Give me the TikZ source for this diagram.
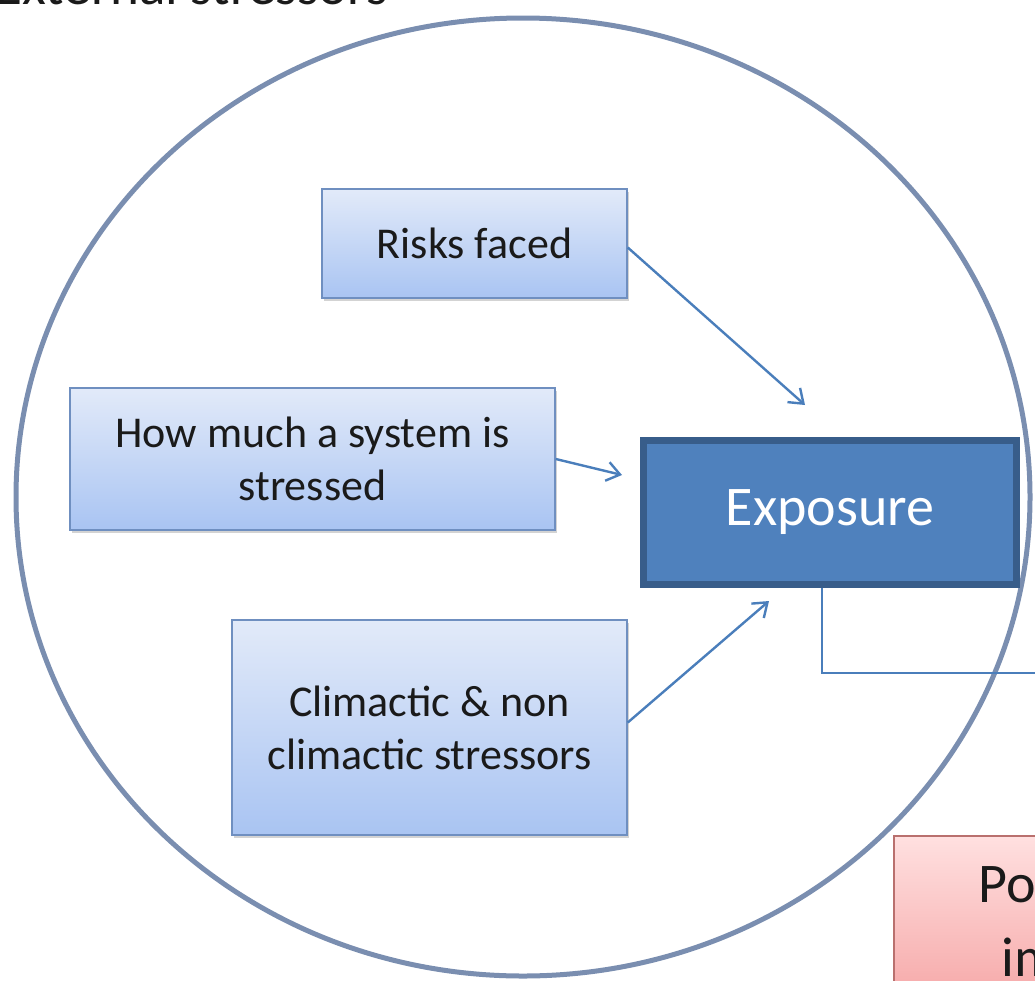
\documentclass[tikz,border=0pt]{standalone}
\usepackage{fontspec}
\setmainfont{Carlito}
\usetikzlibrary{arrows.meta,shadows}
\definecolor{ringc}{HTML}{7A8EB0}
\definecolor{boxtop}{HTML}{E2EAF9}
\definecolor{boxbot}{HTML}{A9C4F2}
\definecolor{boxline}{HTML}{6F8FC0}
\definecolor{expofill}{HTML}{4F81BD}
\definecolor{expoline}{HTML}{385D8A}
\definecolor{arrc}{HTML}{4A7EBB}
\definecolor{pinktop}{HTML}{FFE0E0}
\definecolor{pinkbot}{HTML}{F5A3A3}
\definecolor{pinkline}{HTML}{B9706E}
\definecolor{txt}{HTML}{1A1A1A}
\tikzset{
  bluebox/.style={draw=boxline, line width=1.5pt, top color=boxtop, bottom color=boxbot,
    drop shadow={shadow xshift=2pt, shadow yshift=-3pt, opacity=0.35},
    align=center, text=txt, font=\fontsize{44}{53}\selectfont, inner sep=0pt},
  expobox/.style={draw=expoline, line width=7pt, fill=expofill, text=white,
    font=\fontsize{56}{66}\selectfont, inner sep=0pt},
  pinkbox/.style={draw=pinkline, line width=1.5pt, top color=pinktop, bottom color=pinkbot,
    align=center, text=txt, font=\fontsize{56}{74}\selectfont, inner sep=0pt},
  arr/.style={draw=arrc, line width=2.4pt, -{Straight Barb[length=13pt,width=19pt,line width=2.4pt]}},
  link/.style={draw=arrc, line width=1.5pt},
  ring/.style={draw=ringc, line width=5pt}
}
\begin{document}
\begin{tikzpicture}[x=1pt,y=-1pt]
\useasboundingbox (0,0) rectangle (1035,980);
\clip (0,0) rectangle (1035,980);
\node[anchor=base west, text=txt, font=\fontsize{55}{66}\selectfont, inner sep=0pt] (title) at (-5,4) {External stressors};
\draw[ring] (523,497) ellipse [x radius=507, y radius=479];
\node[bluebox, minimum width=305, minimum height=109] (risks) at (474.5,243.5) {Risks faced};
\node[bluebox, minimum width=485, minimum height=142] (much) at (312.5,459) {How much a system is\\stressed};
\node[bluebox, minimum width=395, minimum height=215] (clim) at (429.5,727.5) {Climactic \& non\\climactic stressors};
\node[expobox, minimum width=373, minimum height=144] (expo) at (830,512.5) {Exposure};
\node[pinkbox, minimum width=380, minimum height=180, anchor=north west] (pot) at (893,835) {};
\node[align=center, text=txt, font=\fontsize{56}{74}\selectfont, inner sep=0pt] (pottxt) at (1080,925) {Potential\\impact};
\coordinate (t1) at (805,405);
\coordinate (t2) at (622,475);
\coordinate (t3) at (769,601);
\coordinate (e1) at (1045,673);
\draw[arr] ([yshift=-4pt]risks.east) -- (t1);
\draw[arr] (much.east) -- (t2);
\draw[arr] ([yshift=5pt]clim.east) -- (t3);
\draw[link] ([xshift=-8pt]expo.south) |- (e1);
\end{tikzpicture}
\end{document}
